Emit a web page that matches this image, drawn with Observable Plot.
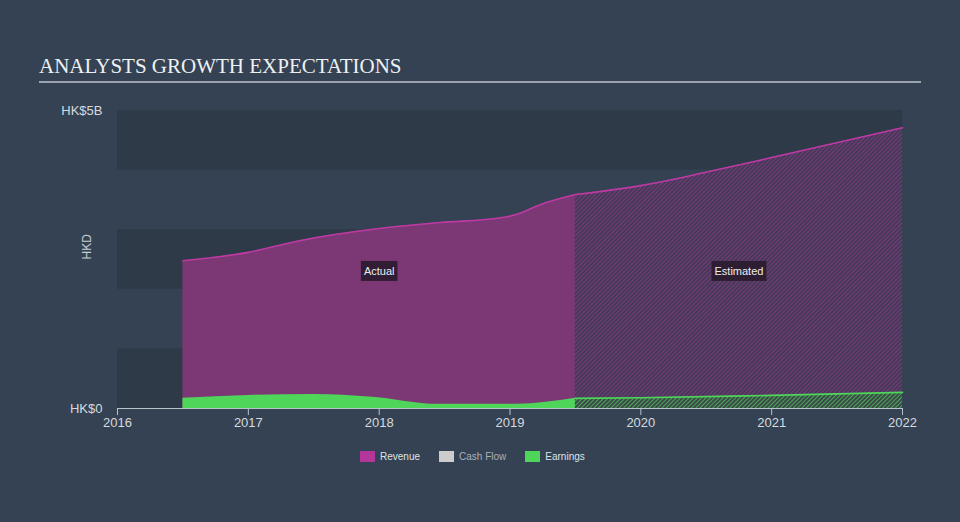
<!DOCTYPE html>
<html>
<head>
<meta charset="utf-8">
<script src="https://cdn.jsdelivr.net/npm/d3@7"></script>
<script src="https://cdn.jsdelivr.net/npm/@observablehq/plot@0.6"></script>
<style>
  body { margin: 0; background: #344253; }
  #wrap { position: relative; width: 960px; height: 522px; overflow: hidden; background: #344253; font-family: "Liberation Sans", Arial, sans-serif; }
  #title { position: absolute; left: 39px; top: 54px; font-family: "Liberation Serif", "DejaVu Serif", serif; font-size: 21px; color: #eef0f2; white-space: nowrap; }
  #rule { position: absolute; left: 39px; top: 81px; width: 882px; height: 2px; background: #9aa3ad; }
  #chart { position: absolute; left: 0; top: 0; }
  #legend { position: absolute; top: 451px; left: 360px; display: flex; align-items: center; font-size: 10px; }
  .item { display: flex; align-items: center; margin-right: 19px; }
  .sw { width: 15px; height: 11px; margin-right: 5px; }
</style>
</head>
<body>
<div id="wrap">
  <div id="title">ANALYSTS GROWTH EXPECTATIONS</div>
  <div id="rule"></div>
  <div id="chart"></div>
  <div id="legend"></div>
</div>
<script>
// ---- data (values in HK$ billions, x in fractional years) ----
const revActualYears = [2016.5, 2017.0, 2017.4, 2018.0, 2018.47, 2018.93, 2019.04, 2019.23, 2019.5];
const revActual      = [2.48,   2.62,   2.82,   3.02,   3.12,    3.20,    3.25,    3.42,    3.59];
const revEstYears    = [2019.5, 2020.0, 2020.53, 2021.0, 2022.0];
const revEstimate    = [3.59,   3.74,   3.98,    4.21,   4.71];
const earnActualYears = [2016.5, 2017.0, 2017.5, 2017.95, 2018.45, 2019.05, 2019.5];
const earnActual      = [0.17,   0.22,   0.235,  0.19,    0.07,    0.07,    0.17];
const earnEstYears    = [2019.5, 2020.0, 2021.0, 2022.0];
const earnEstimate    = [0.17,   0.18,   0.22,   0.27];
const xTicks = [2016, 2017, 2018, 2019, 2020, 2021, 2022];
const yTicks = [0, 5];
const yTickLabels = ["HK$0", "HK$5B"];
const bandRanges = [[0, 1], [2, 3], [4, 5]];
const regionLabels = ["Actual", "Estimated"];
const regionX = [2018.0, 2020.75];
const regionY = [2.3, 2.3];
const legendNames = ["Revenue", "Cash Flow", "Earnings"];
const legendColors = ["#b5369b", "#cccccc", "#4fd65a"];

const toRows = (xs, ys) => xs.map((x, i) => ({x, y: ys[i]}));
const revA = toRows(revActualYears, revActual);
const revE = toRows(revEstYears, revEstimate);
const earnA = toRows(earnActualYears, earnActual);
const earnE = toRows(earnEstYears, earnEstimate);
const bands = bandRanges.map(([a, b]) => ({y1: a, y2: b}));
const labels = regionLabels.map((t, i) => ({t, x: regionX[i], y: regionY[i]}));

const axisColor = "#b9c1c9";
const chart = Plot.plot({
  width: 960, height: 522,
  marginLeft: 117, marginRight: 58, marginTop: 110, marginBottom: 114,
  style: { background: "transparent", color: "#d6dadf", fontFamily: "Liberation Sans, Arial, sans-serif", fontSize: "11px" },
  x: { domain: [2016, 2022] },
  y: { domain: [0, 5] },
  marks: [
    Plot.rect(bands, { x1: 2016, x2: 2022, y1: "y1", y2: "y2", fill: "#2e3a48" }),
    Plot.areaY(revA, { x: "x", y: "y", fill: "#7b3874", curve: "monotone-x" }),
    Plot.areaY(revE, { x: "x", y: "y", fill: "url(#hatchRev)", curve: "monotone-x" }),
    Plot.lineY(revA, { x: "x", y: "y", stroke: "#bd3aa3", strokeWidth: 1.6, curve: "monotone-x" }),
    Plot.lineY(revE, { x: "x", y: "y", stroke: "#bd3aa3", strokeWidth: 1.6, curve: "monotone-x" }),
    Plot.areaY(earnA, { x: "x", y: "y", fill: "#4fd65a", curve: "monotone-x" }),
    Plot.areaY(earnE, { x: "x", y: "y", fill: "url(#hatchEarn)", curve: "monotone-x" }),
    Plot.lineY(earnE, { x: "x", y: "y", stroke: "#4fd65a", strokeWidth: 1.6, curve: "monotone-x" }),
    Plot.ruleY([0], { stroke: axisColor, strokeWidth: 1 }),
    Plot.axisX({ ticks: xTicks, tickFormat: d => String(d), tickSize: 7, tickPadding: 2, stroke: axisColor, fontSize: 13, label: null }),
    Plot.axisY({ ticks: yTicks, tickFormat: d => yTickLabels[yTicks.indexOf(d)], tickSize: 0, tickPadding: 15, fontSize: 13, label: null }),
    Plot.text(["HKD"], { frameAnchor: "left", dx: -30, rotate: -90, fontSize: 12, fill: "#c8cdd2" }),
    Plot.text(labels, { x: "x", y: "y", text: "t", fill: "#eeeeee", fontSize: 11 })
  ]
});
document.getElementById("chart").appendChild(chart);

// patterns for estimated (hatched) areas
const svg = d3.select(chart);
const defs = svg.insert("defs", ":first-child");
function hatch(id, bg, line) {
  const p = defs.append("pattern").attr("id", id).attr("patternUnits", "userSpaceOnUse")
    .attr("width", 3).attr("height", 3).attr("patternTransform", "rotate(45)");
  p.append("rect").attr("width", 3).attr("height", 3).attr("fill", bg);
  p.append("line").attr("x1", 0).attr("y1", 0).attr("x2", 0).attr("y2", 3).attr("stroke", line).attr("stroke-width", 1.5);
}
hatch("hatchRev", "#443a58", "#8c3a87");
hatch("hatchEarn", "#3b4a48", "#4fc85a");

// dark boxes behind region labels
svg.selectAll("text").each(function () {
  if (regionLabels.includes(this.textContent)) {
    const b = this.getBBox();
    d3.select(this.parentNode).insert("rect", () => this)
      .attr("transform", this.getAttribute("transform"))
      .attr("x", b.x - 3).attr("y", b.y - 4).attr("width", b.width + 6).attr("height", b.height + 8)
      .attr("fill", "#2a1c2e").attr("fill-opacity", 0.9);
  }
});

// legend
const legend = d3.select("#legend");
legendNames.forEach((n, i) => {
  const it = legend.append("div").attr("class", "item");
  it.append("div").attr("class", "sw").style("background", legendColors[i]);
  it.append("span").text(n).style("color", n === "Cash Flow" ? "#a9b0b8" : "#dfe2e5");
});
</script>
</body>
</html>
